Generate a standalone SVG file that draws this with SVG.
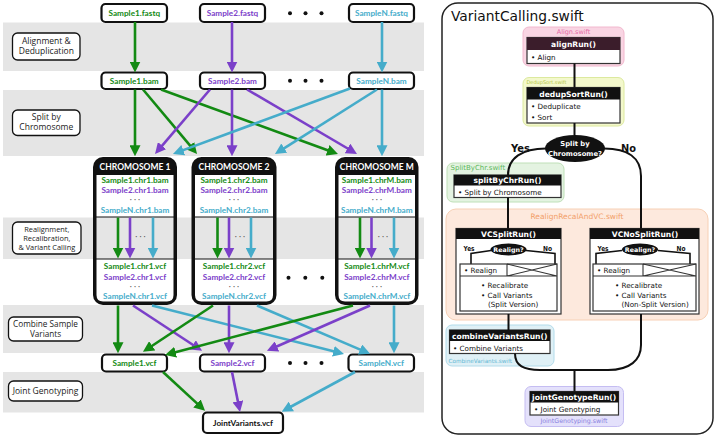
<svg xmlns="http://www.w3.org/2000/svg" width="716" height="438" viewBox="0 0 716 438">
<style>
.band{fill:#e5e5e5}
.lbl{fill:#fff;stroke:#111;stroke-width:1.3}
.lt{font-family:'Open Sans',sans-serif;font-size:8.5px;fill:#222;text-anchor:middle}
.sbox{fill:#fff;stroke:#111;stroke-width:2.2}
.st{font-family:Lato,sans-serif;font-weight:bold;font-size:8.2px;text-anchor:middle}
.g{fill:#138a13}.p{fill:#7b40c9}.c{fill:#45acca}
.dot{fill:#111}
.chr{fill:#111}
.cw{fill:#fff}
.cg{fill:#e5e5e5}
.ct{font-family:Lato,sans-serif;font-weight:bold;font-size:8.5px;fill:#fff;text-anchor:middle}
.dd{font-family:Lato,sans-serif;font-size:8px;fill:#555;text-anchor:middle}
.arr{fill:none;stroke-width:2.6}
.ag{stroke:#138a13;marker-end:url(#mg)}
.ap{stroke:#7b40c9;marker-end:url(#mp)}
.ac{stroke:#45acca;marker-end:url(#mc)}
.fn{fill:#fff;stroke:#333;stroke-width:1.2}
.hdr{fill:#111}
.ht{font-family:'DejaVu Sans',sans-serif;font-weight:bold;font-size:7.6px;fill:#fff;text-anchor:middle}
.bt{font-family:'DejaVu Sans',sans-serif;font-size:7.2px;fill:#111}
.yn{font-family:'DejaVu Sans',sans-serif;font-weight:bold;fill:#111;text-anchor:middle}
.conn{fill:none;stroke:#111;stroke-width:2}
.thin{fill:none;stroke:#333;stroke-width:1.1}
</style>
<defs>
<marker id="mg" viewBox="0 0 10 10" refX="2" refY="5" markerWidth="11" markerHeight="11" markerUnits="userSpaceOnUse" orient="auto"><path d="M0,0L10,5L0,10z" fill="#138a13"/></marker>
<marker id="mp" viewBox="0 0 10 10" refX="2" refY="5" markerWidth="11" markerHeight="11" markerUnits="userSpaceOnUse" orient="auto"><path d="M0,0L10,5L0,10z" fill="#7b40c9"/></marker>
<marker id="mc" viewBox="0 0 10 10" refX="2" refY="5" markerWidth="11" markerHeight="11" markerUnits="userSpaceOnUse" orient="auto"><path d="M0,0L10,5L0,10z" fill="#45acca"/></marker>
</defs>
<rect width="716" height="438" fill="#fff"/>

<!-- left panel bands -->
<g id="bands">
<rect class="band" x="3" y="22.5" width="421" height="48.5"/>
<rect class="band" x="3" y="90" width="421" height="66"/>
<rect class="band" x="3" y="217.5" width="421" height="41.5"/>
<rect class="band" x="3" y="305" width="421" height="48"/>
<rect class="band" x="3" y="372" width="421" height="40.5"/>
</g>

<g id="label-align">
<rect class="lbl" x="12.5" y="33" width="67.5" height="27" rx="5"/>
<text class="lt" x="46.3" y="44.3">Alignment &amp;</text>
<text class="lt" x="46.3" y="54.3">Deduplication</text>
</g>
<g id="label-split">
<rect class="lbl" x="12.5" y="110" width="67.5" height="25.5" rx="5"/>
<text class="lt" x="46.3" y="120">Split by</text>
<text class="lt" x="46.3" y="130">Chromosome</text>
</g>
<g id="label-realign">
<rect class="lbl" x="12.5" y="222" width="68.5" height="32" rx="5"/>
<text class="lt" x="46.8" y="232.4" style="font-size:7.4px">Realignment,</text>
<text class="lt" x="46.8" y="241.2" style="font-size:7.4px">Recalibration,</text>
<text class="lt" x="46.8" y="250.2" style="font-size:7.4px">&amp; Variant Calling</text>
</g>
<g id="label-combine">
<rect class="lbl" x="8.5" y="317" width="74" height="24" rx="5"/>
<text class="lt" x="45.5" y="327.2" style="font-size:8.2px">Combine Sample</text>
<text class="lt" x="45.5" y="337.4" style="font-size:8.2px">Variants</text>
</g>
<g id="label-joint">
<rect class="lbl" x="8.5" y="381" width="74" height="20" rx="5"/>
<text class="lt" x="45.5" y="394.2">Joint Genotyping</text>
</g>

<!-- fastq row -->
<g id="sample1-fastq"><rect class="sbox" x="101.5" y="4" width="65.5" height="18" rx="4"/><text class="st g" x="134.3" y="16">Sample1.fastq</text></g>
<g id="sample2-fastq"><rect class="sbox" x="200" y="4" width="65" height="18" rx="4"/><text class="st p" x="232.5" y="16">Sample2.fastq</text></g>
<g id="sampleN-fastq"><rect class="sbox" x="349" y="4" width="65" height="18" rx="4"/><text class="st c" x="381.5" y="16">SampleN.fastq</text></g>
<g id="dots-fastq"><circle class="dot" cx="290" cy="13.3" r="2"/><circle class="dot" cx="305.5" cy="13.3" r="2"/><circle class="dot" cx="321.5" cy="13.3" r="2"/></g>

<!-- bam row -->
<g id="sample1-bam"><rect class="sbox" x="101.5" y="72.5" width="65.5" height="16.5" rx="4"/><text class="st g" x="134.3" y="83.8">Sample1.bam</text></g>
<g id="sample2-bam"><rect class="sbox" x="200" y="72.5" width="65" height="16.5" rx="4"/><text class="st p" x="232.5" y="83.8">Sample2.bam</text></g>
<g id="sampleN-bam"><rect class="sbox" x="349" y="72.5" width="65" height="16.5" rx="4"/><text class="st c" x="381.5" y="83.8">SampleN.bam</text></g>
<g id="dots-bam"><circle class="dot" cx="290" cy="80.7" r="2"/><circle class="dot" cx="305.5" cy="80.7" r="2"/><circle class="dot" cx="321.5" cy="80.7" r="2"/></g>

<!-- chromosome boxes -->
<g id="chromosome-1">
<rect class="chr" x="93" y="157" width="84" height="148" rx="10"/>
<text class="ct" x="135" y="169.8">CHROMOSOME 1</text>
<rect class="cw" x="96.5" y="175" width="77" height="41.5"/>
<rect class="cg" x="96.5" y="217.5" width="77" height="41"/>
<path class="cw" d="M96.5,259.5H173.5V295Q173.5,301.5 167,301.5H103Q96.5,301.5 96.5,295Z"/>
<text class="st g" x="135" y="183.2">Sample1.chr1.bam</text>
<text class="st p" x="135" y="193.2">Sample2.chr1.bam</text>
<text class="dd" x="135" y="202">· · ·</text>
<text class="st c" x="135" y="213.2">SampleN.chr1.bam</text>
<text class="dd" x="140.5" y="238.5">· · ·</text>
<text class="st g" x="135" y="268.8">Sample1.chr1.vcf</text>
<text class="st p" x="135" y="279.5">Sample2.chr1.vcf</text>
<text class="dd" x="135" y="289">· · ·</text>
<text class="st c" x="135" y="299.3">SampleN.chr1.vcf</text>
</g>
<g id="chromosome-2">
<rect class="chr" x="191.5" y="157" width="85" height="148" rx="10"/>
<text class="ct" x="234" y="169.8">CHROMOSOME 2</text>
<rect class="cw" x="195" y="175" width="78" height="41.5"/>
<rect class="cg" x="195" y="217.5" width="78" height="41"/>
<path class="cw" d="M195,259.5H273V295Q273,301.5 266.5,301.5H201.5Q195,301.5 195,295Z"/>
<text class="st g" x="234" y="183.2">Sample1.chr2.bam</text>
<text class="st p" x="234" y="193.2">Sample2.chr2.bam</text>
<text class="dd" x="234" y="202">· · ·</text>
<text class="st c" x="234" y="213.2">SampleN.chr2.bam</text>
<text class="dd" x="240" y="238.5">· · ·</text>
<text class="st g" x="234" y="268.8">Sample1.chr2.vcf</text>
<text class="st p" x="234" y="279.5">Sample2.chr2.vcf</text>
<text class="dd" x="234" y="289">· · ·</text>
<text class="st c" x="234" y="299.3">SampleN.chr2.vcf</text>
</g>
<g id="chromosome-M">
<rect class="chr" x="335" y="157" width="83.5" height="148" rx="10"/>
<text class="ct" x="376.8" y="169.8">CHROMOSOME M</text>
<rect class="cw" x="338.5" y="175" width="76.5" height="41.5"/>
<rect class="cg" x="338.5" y="217.5" width="76.5" height="41"/>
<path class="cw" d="M338.5,259.5H415V295Q415,301.5 408.5,301.5H345Q338.5,301.5 338.5,295Z"/>
<text class="st g" x="376.8" y="183.2">Sample1.chrM.bam</text>
<text class="st p" x="376.8" y="193.2">Sample2.chrM.bam</text>
<text class="dd" x="376.8" y="202">· · ·</text>
<text class="st c" x="376.8" y="213.2">SampleN.chrM.bam</text>
<text class="dd" x="383" y="238.5">· · ·</text>
<text class="st g" x="376.8" y="268.8">Sample1.chrM.vcf</text>
<text class="st p" x="376.8" y="279.5">Sample2.chrM.vcf</text>
<text class="dd" x="376.8" y="289">· · ·</text>
<text class="st c" x="376.8" y="299.3">SampleN.chrM.vcf</text>
</g>
<g id="dots-chr"><circle class="dot" cx="288.5" cy="277.7" r="2"/><circle class="dot" cx="305.3" cy="277.7" r="2"/><circle class="dot" cx="322.3" cy="277.7" r="2"/></g>

<!-- sample vcf row -->
<g id="sample1-vcf"><rect class="sbox" x="102" y="354.5" width="65" height="17" rx="4"/><text class="st g" x="134.5" y="366">Sample1.vcf</text></g>
<g id="sample2-vcf"><rect class="sbox" x="200" y="354.5" width="65" height="17" rx="4"/><text class="st p" x="232.5" y="366">Sample2.vcf</text></g>
<g id="sampleN-vcf"><rect class="sbox" x="348.5" y="354.5" width="65.5" height="17" rx="4"/><text class="st c" x="381.2" y="366">SampleN.vcf</text></g>
<g id="dots-vcf"><circle class="dot" cx="290" cy="363" r="2"/><circle class="dot" cx="305.5" cy="363" r="2"/><circle class="dot" cx="321.5" cy="363" r="2"/></g>

<g id="joint-variants"><rect class="sbox" x="203" y="412.5" width="80" height="20.5" rx="4"/><text class="st" x="243" y="425.8" style="fill:#111">JointVariants.vcf</text></g>

<!-- left connectors -->
<g id="connectors-left" class="arr">
<line class="ag" x1="135" y1="22" x2="135" y2="63.7"/>
<line class="ap" x1="232" y1="22" x2="232" y2="63.7"/>
<line class="ac" x1="382" y1="22" x2="382" y2="63.7"/>

<line class="ag" x1="135" y1="89.5" x2="135" y2="147.5"/>
<line class="ag" x1="143" y1="89.5" x2="191.4" y2="147.2"/>
<line class="ag" x1="161" y1="89.5" x2="329.7" y2="151"/>
<line class="ap" x1="210" y1="89.5" x2="160.7" y2="147.3"/>
<line class="ap" x1="232" y1="89.5" x2="232" y2="147.5"/>
<line class="ap" x1="247" y1="89.5" x2="349.4" y2="149.5"/>
<line class="ac" x1="350" y1="88.5" x2="181.2" y2="150.9"/>
<line class="ac" x1="377" y1="89.5" x2="282.4" y2="149.3"/>
<line class="ac" x1="382" y1="89.5" x2="382" y2="147.5"/>

<line class="ag" x1="118" y1="217.5" x2="118" y2="249.7"/>
<line class="ap" x1="130" y1="217.5" x2="130" y2="249.7"/>
<line class="ac" x1="153" y1="217.5" x2="153" y2="249.7"/>
<line class="ag" x1="217.5" y1="217.5" x2="217.5" y2="249.7"/>
<line class="ap" x1="229" y1="217.5" x2="229" y2="249.7"/>
<line class="ac" x1="251" y1="217.5" x2="251" y2="249.7"/>
<line class="ag" x1="360" y1="217.5" x2="360" y2="249.7"/>
<line class="ap" x1="371.5" y1="217.5" x2="371.5" y2="249.7"/>
<line class="ac" x1="394" y1="217.5" x2="394" y2="249.7"/>

<line class="ag" x1="118" y1="305.5" x2="118" y2="344.5"/>
<line class="ap" x1="133" y1="305.5" x2="194.7" y2="346"/>
<line class="ac" x1="152" y1="305.5" x2="335.5" y2="351.8"/>
<line class="ag" x1="213" y1="305.5" x2="150.3" y2="347"/>
<line class="ap" x1="229" y1="305.5" x2="229" y2="344.5"/>
<line class="ac" x1="257" y1="305.5" x2="362" y2="350.4"/>
<line class="ag" x1="353" y1="305.5" x2="173.5" y2="352.7"/>
<line class="ap" x1="370" y1="305.5" x2="275" y2="347.3"/>
<line class="ac" x1="394" y1="305.5" x2="394" y2="344.5"/>

<line class="ag" x1="163" y1="372" x2="198.6" y2="404.9"/>
<line class="ap" x1="232" y1="372" x2="238.3" y2="403.4"/>
<line class="ac" x1="355" y1="372" x2="289.4" y2="407.5"/>
</g>

<!-- right panel -->
<g id="variant-calling-panel">
<rect x="442" y="3" width="271" height="431" rx="16" fill="#fff" stroke="#222" stroke-width="1.5"/>
<text x="451" y="21" style="font-family:'DejaVu Sans',sans-serif;font-size:13.8px;fill:#111">VariantCalling.swift</text>
</g>

<g id="align-swift">
<rect x="523" y="27" width="101" height="39" rx="6" fill="#f9d5e3" stroke="#f2b8ce"/>
<text x="573.5" y="34" style="font-family:'DejaVu Sans',sans-serif;font-size:6.5px;fill:#e56aa6;text-anchor:middle">Align.swift</text>
<rect class="fn" x="527" y="37.5" width="93" height="26"/>
<rect x="527" y="37.5" width="93" height="12.5" fill="#3b1d2b"/>
<text class="ht" x="573.5" y="46.8">alignRun()</text>
<text class="bt" x="531" y="59.8">• Align</text>
</g>

<g id="dedupsort-swift">
<rect x="523" y="77.5" width="101" height="48.5" rx="6" fill="#f3f8cc" stroke="#dce99e"/>
<text x="526.5" y="84" style="font-family:'DejaVu Sans',sans-serif;font-size:5px;fill:#b3c545">DedupSort.swift</text>
<rect class="fn" x="527" y="87.5" width="93" height="35.5"/>
<rect class="hdr" x="527" y="87.5" width="93" height="12"/>
<text class="ht" x="573.5" y="96.6">dedupSortRun()</text>
<text class="bt" x="531" y="109">• Deduplicate</text>
<text class="bt" x="531" y="119.5">• Sort</text>
</g>

<g id="split-decision">
<ellipse cx="575" cy="148.5" rx="30" ry="13.5" fill="#111"/>
<text x="575" y="145.5" style="font-family:'DejaVu Sans',sans-serif;font-weight:bold;font-size:6.8px;fill:#fff;text-anchor:middle">Split by</text>
<text x="575" y="155.5" style="font-family:'DejaVu Sans',sans-serif;font-weight:bold;font-size:6.8px;fill:#fff;text-anchor:middle">Chromosome?</text>
<text class="yn" x="520.5" y="151.5" style="font-size:11px" textLength="19" lengthAdjust="spacingAndGlyphs">Yes</text>
<text class="yn" x="628.5" y="151.5" style="font-size:11px" textLength="15" lengthAdjust="spacingAndGlyphs">No</text>
</g>

<g id="splitbychr-swift">
<rect x="447" y="163" width="117" height="39" rx="6" fill="#e4f3e1" stroke="#bfe0b8"/>
<text x="450.5" y="170" style="font-family:'DejaVu Sans',sans-serif;font-size:7px;fill:#5cb85c">SplitByChr.swift</text>
<rect class="fn" x="454" y="175" width="107" height="22.5"/>
<rect class="hdr" x="454" y="175" width="107" height="10.5"/>
<text class="ht" x="507.5" y="183.3">splitByChrRun()</text>
<text class="bt" x="458" y="194.5">• Split by Chromosome</text>
</g>

<g id="realignrecalandvc-swift">
<rect x="446" y="209" width="262" height="111" rx="10" fill="#fde9dd" stroke="#f7d0b5"/>
<text x="577" y="219" style="font-family:'DejaVu Sans',sans-serif;font-size:7.5px;fill:#f2a06a;text-anchor:middle">RealignRecalAndVC.swift</text>
</g>

<g id="vc-split-run">
<rect class="fn" x="456" y="228.5" width="105" height="85.5"/>
<rect class="hdr" x="456" y="228.5" width="105" height="10.5"/>
<text class="ht" x="508.5" y="236.8">VCSplitRun()</text>
<path class="thin" d="M491,250.5L471,253.5V264M526,250.5L555,253.5V264" style="stroke:#111;stroke-width:1.6"/>
<ellipse cx="508.5" cy="249.5" rx="18" ry="6" fill="#111"/>
<text x="508.5" y="251.8" style="font-family:'DejaVu Sans',sans-serif;font-weight:bold;font-size:6.3px;fill:#fff;text-anchor:middle">Realign?</text>
<text class="yn" x="469" y="251" style="font-size:7px" textLength="11" lengthAdjust="spacingAndGlyphs">Yes</text>
<text class="yn" x="547.5" y="251" style="font-size:7px" textLength="9" lengthAdjust="spacingAndGlyphs">No</text>
<rect class="fn" x="460" y="264" width="97" height="47"/>
<path class="thin" d="M460,276H557M507,264V276M507,264L557,276M507,276L557,264"/>
<text class="bt" x="464" y="273">• Realign</text>
<text class="bt" x="481" y="288">• Recalibrate</text>
<text class="bt" x="481" y="298">• Call Variants</text>
<text class="bt" x="488" y="307">(Split Version)</text>
</g>

<g id="vc-nosplit-run">
<rect class="fn" x="590" y="228.5" width="109" height="85.5"/>
<rect class="hdr" x="590" y="228.5" width="109" height="10.5"/>
<text class="ht" x="645" y="236.8">VCNoSplitRun()</text>
<path class="thin" d="M622,250.5L596,253.5V264M658,250.5L690,253.5V264" style="stroke:#111;stroke-width:1.6"/>
<ellipse cx="640" cy="249.5" rx="18" ry="6" fill="#111"/>
<text x="640" y="251.8" style="font-family:'DejaVu Sans',sans-serif;font-weight:bold;font-size:6.3px;fill:#fff;text-anchor:middle">Realign?</text>
<text class="yn" x="603" y="251" style="font-size:7px" textLength="11" lengthAdjust="spacingAndGlyphs">Yes</text>
<text class="yn" x="681" y="251" style="font-size:7px" textLength="9" lengthAdjust="spacingAndGlyphs">No</text>
<rect class="fn" x="593" y="264" width="103" height="47"/>
<path class="thin" d="M593,276H696M643,264V276M643,264L696,276M643,276L696,264"/>
<text class="bt" x="597" y="273">• Realign</text>
<text class="bt" x="615" y="288">• Recalibrate</text>
<text class="bt" x="615" y="298">• Call Variants</text>
<text class="bt" x="621.5" y="307">(Non-Split Version)</text>
</g>

<g id="combinevariants-swift">
<rect x="446" y="325" width="108" height="41" rx="6" fill="#dff0f6" stroke="#b2dceb"/>
<text x="448.5" y="363" style="font-family:'DejaVu Sans',sans-serif;font-size:5.7px;fill:#64b8d4">CombineVariants.swift</text>
<rect class="fn" x="449.5" y="330" width="100.5" height="23.5"/>
<rect class="hdr" x="449.5" y="330" width="100.5" height="11"/>
<text class="ht" x="499.7" y="338.5">combineVariantsRun()</text>
<text class="bt" x="453" y="350.8">• Combine Variants</text>
</g>

<g id="jointgenotyping-swift">
<rect x="525" y="386.5" width="98.5" height="40" rx="6" fill="#e4e1fb" stroke="#c5bdf2"/>
<text x="574" y="423" style="font-family:'DejaVu Sans',sans-serif;font-size:6.3px;fill:#8b82e0;text-anchor:middle">JointGenotyping.swift</text>
<rect class="fn" x="530" y="391.5" width="88.5" height="23.5"/>
<rect class="hdr" x="530" y="391.5" width="88.5" height="11"/>
<text class="ht" x="574.2" y="400">jointGenotypeRun()</text>
<text class="bt" x="534" y="412">• Joint Genotyping</text>
</g>

<g id="connectors-right" class="conn">
<path d="M574.5,63.5V87.5"/>
<path d="M574.5,123V135"/>
<path d="M546,148.5C522,148.5 508,158 508,175"/>
<path d="M604,148.5C628,148.5 641,158 641,176V228.5"/>
<path d="M508,197.5V228.5"/>
<path d="M508.5,314V330"/>
<path d="M515,353.5C515,366 524,370 540,370H608C630,370 641,360 641,345V314"/>
<path d="M574.5,370V391.5"/>
</g>
</svg>
